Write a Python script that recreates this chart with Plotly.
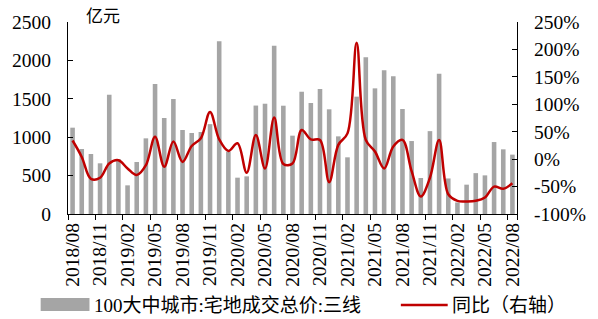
import plotly.graph_objects as go

months = [f"{y}/{m:02d}" for y in range(2018, 2023) for m in range(1, 13)]
months = months[months.index("2018/08"):months.index("2022/08") + 1]

amount = [1124, 846, 781, 660, 1553, 716, 373, 677, 985, 1693,
          1250, 1497, 1094, 1055, 1068, 1170, 2248, 811, 473, 490,
          1412, 1436, 2192, 1410, 1020, 1592, 1445, 1628, 1363, 1011,
          738, 1528, 2040, 1636, 1871, 1793, 1367, 950, 469, 1079,
          1827, 463, 150, 382, 532, 503, 937, 842, 773]

yoy = [34, 4, -36, -34, -8, -2, -17, -29, -11, 41,
       -14, 32, -5, 24, 38, 86, 36, 15, 29, -25,
       44, -17, 76, -9, -8, 53, 36, 35, -42, 26,
       47, 212, 35, 14, -17, 23, 35, -22, -68, -34,
       35, -64, -76, -77, -76, -70, -50, -54, -44]

left_ticks = [0, 500, 1000, 1500, 2000, 2500]
right_ticks = [-100, -50, 0, 50, 100, 150, 200, 250]

bar_name = "100大中城市:宅地成交总价:三线"
line_name = "同比（右轴）"
unit_label = "亿元"

FONT = "'Liberation Serif', 'Times New Roman', 'Noto Sans CJK SC', serif"
BAR_COLOR = "#a5a5a5"
LINE_COLOR = "#c00000"

fig = go.Figure()
fig.add_trace(go.Bar(x=months, y=amount, name=bar_name, marker_color=BAR_COLOR,
                     marker_line_width=0, yaxis="y", showlegend=False))
fig.add_trace(go.Scatter(x=months, y=yoy, name=line_name, mode="lines",
                         line=dict(color=LINE_COLOR, width=2.5, shape="spline", smoothing=1.0),
                         yaxis="y2", showlegend=False))

fig.update_layout(
    width=598, height=319,
    margin=dict(l=63, r=75, t=22, b=105),
    paper_bgcolor="white", plot_bgcolor="white",
    bargap=0.5,
    font=dict(family=FONT, size=16, color="black"),
    xaxis=dict(
        type="category", range=[-0.5, len(months) - 0.5],
        tickmode="array", tickvals=months[::3], ticktext=months[::3],
        tickson="boundaries", ticks="outside", ticklen=5, tickcolor="black",
        tickangle=-90, tickfont=dict(size=19.5, family=FONT),
        showline=True, linecolor="black", linewidth=1.2,
        showgrid=False, zeroline=False,
    ),
    yaxis=dict(
        range=[0, 2500], tickmode="array", tickvals=left_ticks,
        ticks="inside", ticklen=5, tickcolor="black",
        showline=True, linecolor="black", linewidth=1.2,
        showgrid=False, zeroline=False, ticklabelstandoff=12,
        tickfont=dict(size=19.5, family=FONT),
    ),
    yaxis2=dict(
        range=[-100, 250], tickmode="array", tickvals=right_ticks,
        ticktext=[f"{v}%" for v in right_ticks],
        overlaying="y", side="right",
        ticks="inside", ticklen=5, tickcolor="black",
        showline=True, linecolor="black", linewidth=1.2,
        showgrid=False, zeroline=False, ticklabelstandoff=12,
        tickfont=dict(size=19.5, family=FONT),
    ),
)

# unit label
fig.add_annotation(xref="paper", yref="paper", x=(79 - 63) / 460, y=1.0, yanchor="bottom",
                   xanchor="left", text=unit_label, showarrow=False,
                   font=dict(size=17, family=FONT), yshift=-6)

# custom legend
legend_y = -(305 - 214) / 192
fig.add_shape(type="rect", xref="paper", yref="paper",
              x0=(35 - 63) / 460, x1=(85 - 63) / 460,
              y0=-(298 - 214) / 192, y1=-(311 - 214) / 192,
              fillcolor=BAR_COLOR, line_width=0)
fig.add_annotation(xref="paper", yref="paper", x=(88 - 63) / 460, y=legend_y,
                   xanchor="left", yanchor="middle", text=bar_name, showarrow=False,
                   font=dict(size=19, family=FONT))
fig.add_shape(type="line", xref="paper", yref="paper",
              x0=(404 - 63) / 460, x1=(452 - 63) / 460,
              y0=legend_y, y1=legend_y,
              line=dict(color=LINE_COLOR, width=2.5))
fig.add_annotation(xref="paper", yref="paper", x=(454 - 63) / 460, y=legend_y,
                   xanchor="left", yanchor="middle", text=line_name, showarrow=False,
                   font=dict(size=19, family=FONT))

fig.write_html("out.html")
